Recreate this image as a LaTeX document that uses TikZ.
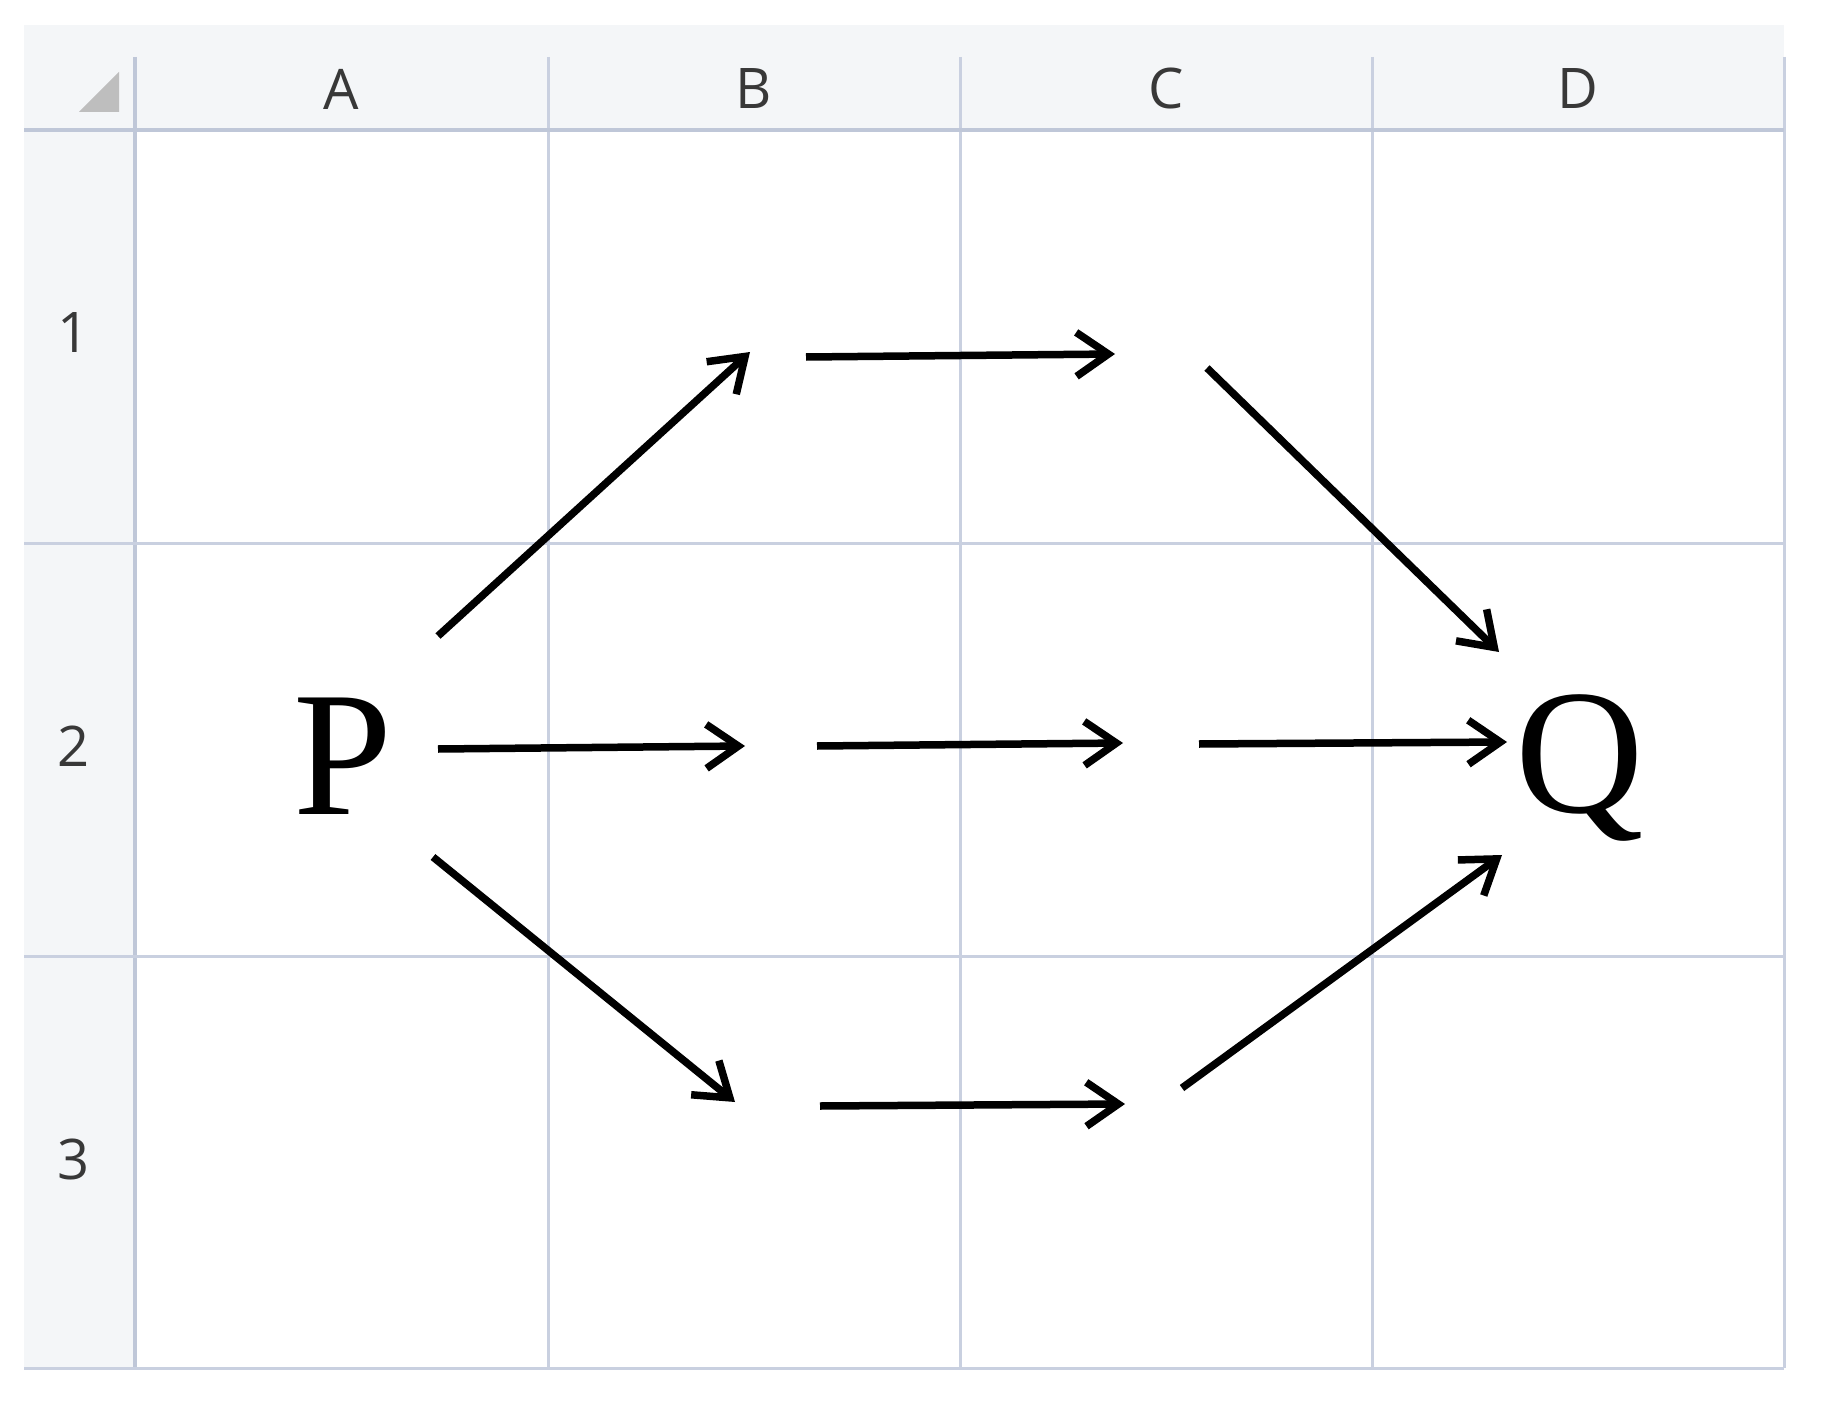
\documentclass[tikz,border=0pt]{standalone}
\usepackage{fontspec}
\setmainfont{Liberation Serif}
\newfontfamily\hdrfont{Open Sans}
\usetikzlibrary{arrows.meta}
\definecolor{hdrbg}{HTML}{F4F6F8}
\definecolor{gridc}{HTML}{C9D0E0}
\definecolor{hdrline}{HTML}{BFC7D8}
\definecolor{tri}{HTML}{BEBEBE}
\definecolor{lbl}{HTML}{383838}
\begin{document}
\begin{tikzpicture}[x=1pt,y=-1pt,
  hdr/.style={font=\hdrfont\fontsize{56}{56}\selectfont, text=lbl, inner sep=0pt},
  big/.style={font=\fontsize{178}{178}\selectfont, inner sep=0pt, anchor=base},
  gridline/.style={draw=gridc, line width=3pt},
  hdrgrid/.style={draw=hdrline, line width=3.5pt},
  flow/.style={line width=7.5pt, -{Straight Barb[length=32pt,width=44pt]}},
]
\useasboundingbox[fill=white] (0,0) rectangle (1824,1407);
% header backgrounds
\fill[hdrbg] (24,25) rectangle (1784,130);
\fill[hdrbg] (24,130) rectangle (135,1368);
% grid lines
\foreach \x in {548,960,1372,1784}
  \draw[gridline] (\x,57) -- (\x,1368);
\draw[hdrgrid] (135,57) -- (135,1368);
\foreach \y in {543,956,1368}
  \draw[gridline] (24,\y) -- (1784,\y);
\draw[hdrgrid] (24,130) -- (1784,130);
% corner triangle
\fill[tri] (79,112) -- (119,72) -- (119,112) -- cycle;
% column labels
\node[hdr] (colA) at (341.5,89) {A};
\node[hdr] (colB) at (754,89) {B};
\node[hdr] (colC) at (1166,89) {C};
\node[hdr] (colD) at (1578,89) {D};
% row labels
\node[hdr] (row1) at (74,333) {1};
\node[hdr] (row2) at (74,746) {2};
\node[hdr] (row3) at (74,1159) {3};
% P and Q
\node[big] (P) at (343,814) {P};
\node[big] (Q) at (1580,812) {Q};
% arrow end points
\coordinate (a1s) at (438,636);  \coordinate (a1e) at (750,352);
\coordinate (a2s) at (806,357);  \coordinate (a2e) at (1115,354);
\coordinate (a3s) at (1207,368); \coordinate (a3e) at (1499,652);
\coordinate (a4s) at (438,749);  \coordinate (a4e) at (745,746);
\coordinate (a5s) at (817,746);  \coordinate (a5e) at (1123,743);
\coordinate (a6s) at (1199,744); \coordinate (a6e) at (1507,742);
\coordinate (a7s) at (433,857);  \coordinate (a7e) at (735,1102);
\coordinate (a8s) at (820,1106); \coordinate (a8e) at (1125,1104);
\coordinate (a9s) at (1182,1088);\coordinate (a9e) at (1502,855);
\foreach \i in {1,...,9}
  \draw[flow] (a\i s) -- (a\i e);
\end{tikzpicture}
\end{document}
